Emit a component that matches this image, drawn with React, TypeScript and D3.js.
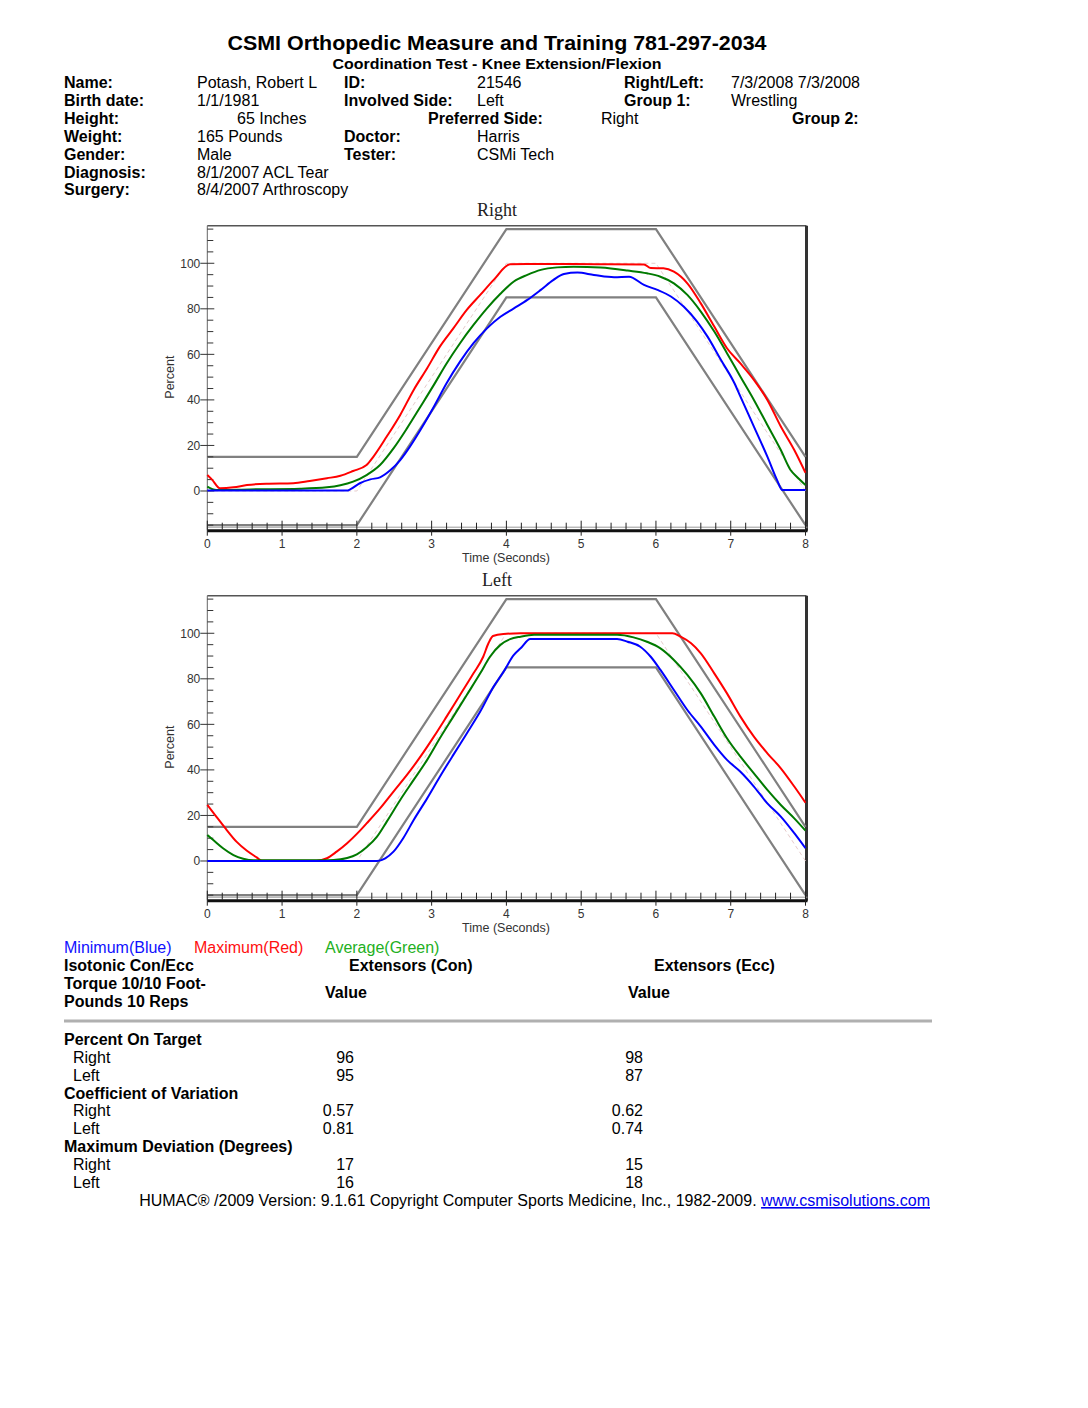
import React from "react";
import * as d3 from "d3";

type Pt = [number, number];

// ---- Data (time in seconds, value in percent) ----
const targetPath: Pt[] = [[0, 0], [2, 0], [4, 100], [6, 100], [8, 0]];
const upperBand: Pt[] = [[0, 15], [2, 15], [4, 115], [6, 115], [8, 15]];
const lowerBand: Pt[] = [[0, -15], [2, -15], [4, 85], [6, 85], [8, -15]];

const rightMax: Pt[] = [
  [0, 7], [0.06, 5.1], [0.17, 1.2], [0.35, 1.6], [0.53, 2.6], [0.79, 3.2], [1.15, 3.4], [1.37, 4.4],
  [1.6, 5.6], [1.78, 6.7], [1.95, 8.8], [2.13, 11.4], [2.22, 15], [2.4, 23.9], [2.58, 33.4],
  [2.76, 44.4], [2.94, 53.9], [3.11, 63.4], [3.29, 71.4], [3.47, 79.5], [3.65, 86.1], [3.83, 92.7],
  [4.05, 99.6], [4.5, 99.7], [5.2, 99.6], [5.84, 99.5], [5.93, 97.9], [6.1, 97.8], [6.24, 96.3],
  [6.42, 91.2], [6.6, 82.4], [6.78, 72.2], [6.95, 62.7], [7.13, 56], [7.31, 48.8], [7.49, 40],
  [7.67, 28.3], [7.85, 18], [8, 8],
];
const rightAvg: Pt[] = [
  [0, 1.9], [0.12, 0.4], [0.57, 0.7], [1.24, 1.0], [1.6, 1.6], [1.78, 2.5], [1.95, 4.1], [2.13, 7],
  [2.31, 11.4], [2.49, 18.7], [2.67, 27.5], [2.85, 37], [3.03, 46.6], [3.2, 56], [3.38, 64.9],
  [3.56, 72.9], [3.74, 80.2], [3.92, 86.6], [4.1, 92], [4.28, 94.9], [4.46, 97.1], [4.68, 98.2],
  [4.9, 98.5], [5.26, 98.1], [5.62, 96.8], [5.88, 95.6], [6.06, 94.1], [6.24, 91.2], [6.42, 86.1],
  [6.6, 78.8], [6.78, 70], [6.95, 60.5], [7.13, 50.2], [7.31, 40], [7.49, 29], [7.67, 18],
  [7.8, 9.2], [7.89, 6], [8, 2.6],
];
const rightMin: Pt[] = [
  [0, 0.2], [1.0, 0.2], [1.87, 0.2], [1.91, 0.7], [2.04, 3.4], [2.18, 5.1], [2.31, 6], [2.45, 9.2],
  [2.58, 13.6], [2.71, 19.5], [2.85, 26.8], [3.03, 37], [3.2, 47.3], [3.38, 56.8], [3.56, 64.9],
  [3.74, 71.4], [3.92, 76.5], [4.1, 80.2], [4.28, 83.9], [4.46, 88.3], [4.63, 92.7], [4.77, 95.3],
  [4.95, 95.9], [5.17, 94.9], [5.44, 93.9], [5.64, 94.1], [5.84, 90.5], [6.02, 88.3], [6.2, 85.4],
  [6.37, 81], [6.55, 74.4], [6.69, 67.8], [6.87, 57.5], [7.05, 47.3], [7.13, 41.4], [7.31, 28.3],
  [7.49, 15.1], [7.62, 4.8], [7.69, 0.4], [8, 0.4],
];

const leftMax: Pt[] = [
  [0, 24.6], [0.12, 19.5], [0.26, 13.6], [0.39, 8.5], [0.53, 4.5], [0.66, 1.6], [0.73, 0.1],
  [1.46, 0.1], [1.6, 1.2], [1.73, 4.1], [1.87, 7.8], [2.0, 11.9], [2.13, 16.5], [2.31, 23.1],
  [2.49, 30.5], [2.67, 37.8], [2.85, 45.8], [3.03, 54.6], [3.2, 63.4], [3.38, 72.9], [3.56, 82.4],
  [3.69, 89.7], [3.76, 95.6], [3.82, 98.8], [3.96, 99.7], [4.19, 100], [5.2, 100], [6.22, 100],
  [6.33, 98.5], [6.47, 95.6], [6.6, 91.2], [6.78, 82.4], [6.95, 73.6], [7.13, 63.4], [7.31, 54.6],
  [7.49, 47.3], [7.67, 40.7], [7.85, 32.7], [8, 25.6],
];
const leftAvg: Pt[] = [
  [0, 11.4], [0.08, 9.2], [0.21, 5.6], [0.35, 2.6], [0.48, 1], [0.62, 0.3], [1.55, 0.3], [1.69, 0.4],
  [1.87, 1.3], [2.0, 2.9], [2.13, 6], [2.27, 10.7], [2.4, 17.3], [2.58, 26.8], [2.76, 35.6],
  [2.94, 44.4], [3.11, 53.9], [3.29, 63.4], [3.47, 72.9], [3.65, 82.4], [3.78, 89.7], [3.92, 94.9],
  [4.05, 97.4], [4.19, 98.5], [4.37, 99.3], [5.48, 99.3], [5.7, 98.2], [5.88, 96.3], [6.06, 93.4],
  [6.24, 88.3], [6.42, 81.7], [6.6, 73.6], [6.78, 63.4], [6.95, 53.9], [7.13, 45.8], [7.31, 38.5],
  [7.49, 31.2], [7.67, 24.6], [7.85, 18.7], [8, 13.3],
];
const leftMin: Pt[] = [
  [0, 0], [1.2, 0], [2.27, 0], [2.38, 1.2], [2.49, 4.1], [2.62, 10], [2.76, 18], [2.94, 27.5],
  [3.11, 37], [3.29, 46.6], [3.47, 56], [3.65, 65.6], [3.83, 76.6], [3.96, 83], [4.1, 90.5],
  [4.19, 93.4], [4.32, 97.5], [5.48, 97.5], [5.62, 96.3], [5.79, 94.1], [5.93, 89.7], [6.06, 83.9],
  [6.24, 75.1], [6.42, 66.3], [6.6, 59], [6.78, 51], [6.95, 44.4], [7.13, 39.2], [7.31, 32.7],
  [7.49, 25.3], [7.67, 19.5], [7.85, 12.2], [8, 5.6],
];

const xTickLabels = ["0", "1", "2", "3", "4", "5", "6", "7", "8"];
const yTickLabels = ["0", "20", "40", "60", "80", "100"];

const infoRows: { text: string; x: number; row: number; bold?: boolean }[] = [
  { text: "Name:", x: 64, row: 0, bold: true },
  { text: "Potash, Robert L", x: 197, row: 0 },
  { text: "ID:", x: 344, row: 0, bold: true },
  { text: "21546", x: 477, row: 0 },
  { text: "Right/Left:", x: 624, row: 0, bold: true },
  { text: "7/3/2008 7/3/2008", x: 731, row: 0 },
  { text: "Birth date:", x: 64, row: 1, bold: true },
  { text: "1/1/1981", x: 197, row: 1 },
  { text: "Involved Side:", x: 344, row: 1, bold: true },
  { text: "Left", x: 477, row: 1 },
  { text: "Group 1:", x: 624, row: 1, bold: true },
  { text: "Wrestling", x: 731, row: 1 },
  { text: "Height:", x: 64, row: 2, bold: true },
  { text: "65 Inches", x: 237, row: 2 },
  { text: "Preferred Side:", x: 428, row: 2, bold: true },
  { text: "Right", x: 601, row: 2 },
  { text: "Group 2:", x: 792, row: 2, bold: true },
  { text: "Weight:", x: 64, row: 3, bold: true },
  { text: "165 Pounds", x: 197, row: 3 },
  { text: "Doctor:", x: 344, row: 3, bold: true },
  { text: "Harris", x: 477, row: 3 },
  { text: "Gender:", x: 64, row: 4, bold: true },
  { text: "Male", x: 197, row: 4 },
  { text: "Tester:", x: 344, row: 4, bold: true },
  { text: "CSMi Tech", x: 477, row: 4 },
  { text: "Diagnosis:", x: 64, row: 5, bold: true },
  { text: "8/1/2007 ACL Tear", x: 197, row: 5 },
  { text: "Surgery:", x: 64, row: 6, bold: true },
  { text: "8/4/2007 Arthroscopy", x: 197, row: 6 },
];

const tableSections = ["Percent On Target", "Coefficient of Variation", "Maximum Deviation (Degrees)"];
const conValues = [["96", "95"], ["0.57", "0.81"], ["17", "16"]];
const eccValues = [["98", "87"], ["0.62", "0.74"], ["15", "18"]];

const FONT = "'Liberation Sans', Arial, Helvetica, sans-serif";
const FS = 16;

const xs = d3.scaleLinear().domain([0, 8]).range([207.3, 805.5]);

function Panel({ off, title, maxS, avgS, minS }: { off: number; title: string; maxS: Pt[]; avgS: Pt[]; minS: Pt[] }) {
  const ys = d3.scaleLinear().domain([-17, 116.5]).range([529.7 + off, 225.7 + off]);
  const line = d3.line<Pt>().x((d) => xs(d[0])).y((d) => ys(d[1]));
  const curve = d3.line<Pt>().x((d) => xs(d[0])).y((d) => ys(d[1])).curve(d3.curveMonotoneX);
  const x0 = xs(0), x1 = xs(8);
  const yTop = ys(116.5), yBot = ys(-17);
  const xMinor = d3.range(0, 8.0001, 0.2);
  const yMinor = d3.range(-15, 115.001, 5);
  return (
    <g>
      <text x={497} y={ys(116.5) - 10} textAnchor="middle" fontFamily="'Liberation Serif', 'Times New Roman', serif" fontSize={18} fill="#222">{title}</text>
      {/* frame */}
      <line x1={x0} x2={x1 + 1} y1={yTop} y2={yTop} stroke="#555" strokeWidth={1.5} />
      <line x1={x1 + 1} x2={x1 + 1} y1={yTop} y2={yBot + 1} stroke="#333" strokeWidth={3} />
      <line x1={x0} x2={x0} y1={yTop} y2={yBot} stroke="#666" strokeWidth={1} />
      <line x1={x0} x2={x1 + 2} y1={yBot - 2.5} y2={yBot - 2.5} stroke="#999" strokeWidth={1} />
      <line x1={x0} x2={x1 + 2} y1={yBot + 1} y2={yBot + 1} stroke="#111" strokeWidth={3} />
      {/* band and target */}
      <path d={line(upperBand) || ""} fill="none" stroke="#808080" strokeWidth={2.2} />
      <path d={line(lowerBand) || ""} fill="none" stroke="#808080" strokeWidth={2.2} />
      <path d={line(targetPath) || ""} fill="none" stroke="#e6cccc" strokeWidth={1} strokeDasharray="4,3" />
      {/* y ticks */}
      {yMinor.map((v) => {
        const major = v % 20 === 0 && v >= 0 && v <= 100;
        return (
          <line key={"yt" + v} x1={major ? x0 - 7 : x0} x2={x0 + (major ? 7 : 6)} y1={ys(v)} y2={ys(v)} stroke="#333" strokeWidth={1} />
        );
      })}
      {yTickLabels.map((l) => (
        <text key={"yl" + l} x={x0 - 7} y={ys(+l) + 4.5} textAnchor="end" fontFamily={FONT} fontSize={12} fill="#333">{l}</text>
      ))}
      {/* x ticks */}
      {xMinor.map((t, i) => {
        const major = i % 5 === 0;
        return (
          <line key={"xt" + i} x1={xs(t)} x2={xs(t)} y1={yBot - (major ? 9 : 7)} y2={yBot + (major ? 6 : 0)} stroke="#222" strokeWidth={1} />
        );
      })}
      {xTickLabels.map((l) => (
        <text key={"xl" + l} x={xs(+l)} y={yBot + 18} textAnchor="middle" fontFamily={FONT} fontSize={12} fill="#333">{l}</text>
      ))}
      <text x={506} y={yBot + 32} textAnchor="middle" fontFamily={FONT} fontSize={12.5} fill="#333">Time (Seconds)</text>
      <text transform={`translate(174, ${ys(50)}) rotate(-90)`} textAnchor="middle" fontFamily={FONT} fontSize={12.5} fill="#333">Percent</text>
      {/* series */}
      <path d={curve(maxS) || ""} fill="none" stroke="#ff0000" strokeWidth={2} />
      <path d={curve(avgS) || ""} fill="none" stroke="#007a00" strokeWidth={2} />
      <path d={curve(minS) || ""} fill="none" stroke="#0000ff" strokeWidth={2} />
    </g>
  );
}

export default function App() {
  const rowY = (r: number) => 87.5 + r * 18 - (r === 6 ? 0.5 : 0);
  const tableRowsY = [1039, 1057, 1075, 1093, 1110, 1128, 1146, 1164, 1182];
  return (
    <svg width={1088} height={1408} style={{ position: "absolute", left: 0, top: 0, background: "#fff" }} xmlns="http://www.w3.org/2000/svg">
      <rect x={0} y={0} width={1088} height={1408} fill="#fff" />
      <text x={497} y={50} textAnchor="middle" fontFamily={FONT} fontWeight="bold" fontSize={20} fill="#000" textLength={539} lengthAdjust="spacingAndGlyphs">CSMI Orthopedic Measure and Training 781-297-2034</text>
      <text x={497} y={69} textAnchor="middle" fontFamily={FONT} fontWeight="bold" fontSize={15} fill="#000" textLength={329} lengthAdjust="spacingAndGlyphs">Coordination Test - Knee Extension/Flexion</text>
      {infoRows.map((r, i) => (
        <text key={"i" + i} x={r.x} y={rowY(r.row)} fontFamily={FONT} fontWeight={r.bold ? "bold" : "normal"} fontSize={FS} fill="#000">{r.text}</text>
      ))}
      <Panel off={0} title="Right" maxS={rightMax} avgS={rightAvg} minS={rightMin} />
      <Panel off={370} title="Left" maxS={leftMax} avgS={leftAvg} minS={leftMin} />
      {/* legend */}
      <text x={64} y={953} fontFamily={FONT} fontSize={FS} fill="#1010ff">Minimum(Blue)</text>
      <text x={194} y={953} fontFamily={FONT} fontSize={FS} fill="#ff1010">Maximum(Red)</text>
      <text x={325} y={953} fontFamily={FONT} fontSize={FS} fill="#22b022">Average(Green)</text>
      {/* table header */}
      <text x={64} y={971} fontFamily={FONT} fontWeight="bold" fontSize={FS}>Isotonic Con/Ecc</text>
      <text x={349} y={971} fontFamily={FONT} fontWeight="bold" fontSize={FS}>Extensors (Con)</text>
      <text x={654} y={971} fontFamily={FONT} fontWeight="bold" fontSize={FS}>Extensors (Ecc)</text>
      <text x={64} y={989} fontFamily={FONT} fontWeight="bold" fontSize={FS}>Torque 10/10 Foot-</text>
      <text x={64} y={1007} fontFamily={FONT} fontWeight="bold" fontSize={FS}>Pounds 10 Reps</text>
      <text x={325} y={998} fontFamily={FONT} fontWeight="bold" fontSize={FS}>Value</text>
      <text x={628} y={998} fontFamily={FONT} fontWeight="bold" fontSize={FS}>Value</text>
      <line x1={64} x2={932} y1={1021} y2={1021} stroke="#b0b0b0" strokeWidth={3} />
      {tableSections.map((s, si) => (
        <g key={"s" + si}>
          <text x={64} y={tableRowsY[si * 3] + 6} fontFamily={FONT} fontWeight="bold" fontSize={FS}>{s}</text>
          {["Right", "Left"].map((side, k) => (
            <g key={side}>
              <text x={73} y={tableRowsY[si * 3 + 1 + k] + 6} fontFamily={FONT} fontSize={FS}>{side}</text>
              <text x={354} y={tableRowsY[si * 3 + 1 + k] + 6} textAnchor="end" fontFamily={FONT} fontSize={FS}>{conValues[si][k]}</text>
              <text x={643} y={tableRowsY[si * 3 + 1 + k] + 6} textAnchor="end" fontFamily={FONT} fontSize={FS}>{eccValues[si][k]}</text>
            </g>
          ))}
        </g>
      ))}
      <text x={930} y={1206} textAnchor="end" fontFamily={FONT} fontSize={FS}>
        <tspan fill="#000">HUMAC® /2009 Version: 9.1.61 Copyright Computer Sports Medicine, Inc., 1982-2009. </tspan>
        <tspan fill="#0000ee" style={{ textDecoration: "underline" }}>www.csmisolutions.com</tspan>
      </text>
    </svg>
  );
}
